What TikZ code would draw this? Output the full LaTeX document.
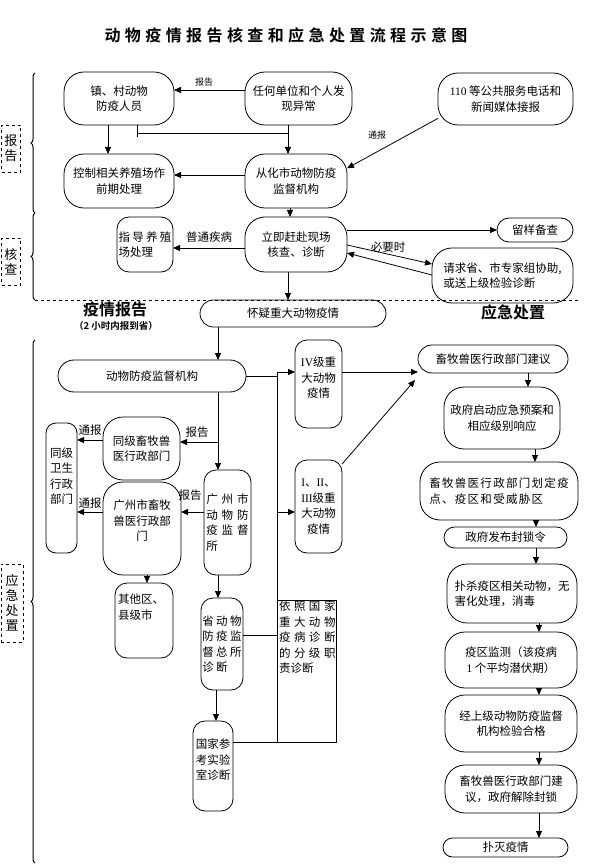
\documentclass[tikz,border=0pt]{standalone}
\usepackage{fontspec}
\setmainfont{Noto Sans CJK SC}[BoldFont={Noto Sans CJK SC Bold}]
\newfontfamily\lat{Liberation Serif}
\usetikzlibrary{arrows.meta,decorations.pathreplacing,calc}
\newcommand\boxfont{\fontsize{11.5}{15.5}\selectfont}
\newdimen\myspcdim
\makeatletter
\def\myspc#1#2{\myspcdim=#1\relax\myspc@a#2\myspc@end}
\def\myspc@a#1{#1\futurelet\myspc@nxt\myspc@b}
\def\myspc@b{\ifx\myspc@nxt\myspc@end\expandafter\@gobble\else\kern\myspcdim\expandafter\myspc@a\fi}
\def\myspc@end{}
\makeatother
\begin{document}
\begin{tikzpicture}[x=1pt,y=-1pt,
  every node/.style={inner sep=0pt, outer sep=0pt},
  box/.style={draw, line width=0.8pt, rounded corners=#1, align=center, font=\boxfont},
  box/.default=18pt,
  txt/.style={align=center, font=\boxfont},
  arr/.style={line width=0.8pt, -{Triangle[length=7pt,width=6pt]}},
  ln/.style={line width=0.8pt},
  lab/.style={font=\boxfont},
  slab/.style={font=\fontsize{9}{10}\selectfont},
  dbox/.style={draw, dashed, line width=0.8pt, align=center, font=\fontsize{13}{15}\selectfont},
  brc/.style={decorate, decoration={brace, amplitude=4pt}, line width=1pt},
  hdr/.style={font=\fontsize{16}{18}\selectfont\bfseries},
]
\useasboundingbox (0,0) rectangle (602,866);

% title
\node[font=\fontsize{16}{18}\selectfont\bfseries] (title) at (286,35) {\myspc{4.4pt}{动物疫情报告核查和应急处置流程示意图}};

% side labels and braces
\node[dbox, minimum width=19pt, minimum height=47pt] (sb1) at (11,148.5) {报\\告};
\node[dbox, minimum width=19pt, minimum height=47pt] (sb2) at (11,261.5) {核\\查};
\node[dbox, minimum width=22pt, minimum height=78pt] (sb3) at (12,603) {应\\急\\处\\置};
\draw[brc] (35,213) -- (35,73);
\draw[brc] (35,300) -- (35,213);
\draw[brc] (35,863) -- (35,340);
\draw[ln, dashed] (35,300) -- (580,300);

% top part
\node[box=20pt, minimum width=110pt, minimum height=53pt] (A) at (119,98.5) {镇、村动物\\防疫人员};
\node[box=20pt, minimum width=107pt, minimum height=53pt] (B) at (298.5,98.5) {任何单位和个人发\\现异常};
\node[box=20pt, minimum width=135pt, minimum height=52pt] (C) at (505.5,99) {{\lat 110} 等公共服务电话和\\新闻媒体接报};
\node[box=20pt, minimum width=110pt, minimum height=54pt] (D) at (119,181) {控制相关养殖场作\\前期处理};
\node[box=20pt, minimum width=102pt, minimum height=54pt] (E) at (296,181) {从化市动物防疫\\监督机构};
\node[box=20pt, minimum width=102pt, minimum height=55pt] (F) at (296,244.5) {立即赶赴现场\\核查、诊断};
\node[box=12pt, minimum width=56pt, minimum height=55pt, align=left] (G) at (145,244.5) {\myspc{2.3pt}{指导养殖}\\场处理};
\node[box=12pt, minimum width=76pt, minimum height=24pt] (I) at (535,230) {留样备查};
\node[box=20pt, minimum width=141pt, minimum height=55pt, align=left] (J) at (502.5,275.5) {请求省、市专家组协助,\\或送上级检验诊断};
\node[box=13.5pt, minimum width=186pt, minimum height=27pt] (H) at (293,313.5) {怀疑重大动物疫情};

\node[hdr] (h1) at (115,309) {疫情报告};
\node[font=\fontsize{9.5}{11}\selectfont\bfseries] (h2) at (116,326) {（2 小时内报到省）};
\node[hdr] (h3) at (513,312) {应急处置};

% top connectors
\coordinate (t1) at (137,137);
\coordinate (t2) at (288,133);
\draw[arr] (B.west |- 0,90) -- (A.east |- 0,90);
\node[slab] (l1) at (204,82) {报告};
\draw[arr] (A.south -| 108,0) -- (D.north -| 108,0);
\draw[ln] (A.south -| t1) -- (t1);
\draw[ln] (t1 |- t2) -- (t2);
\draw[arr] (B.south -| t2) -- (E.north -| t2);
\draw[arr] (C.196) -- (E.14);
\node[slab] (l2) at (377,135) {通报};
\draw[arr] (E.west |- 0,175) -- (D.east |- 0,175);
\draw[arr] (E.south -| 290,0) -- (F.north -| 290,0);
\draw[arr] (F.west |- 0,248) -- (G.east |- 0,248);
\node[lab] (l3) at (209,237) {普通疾病};
\draw[arr] (F.east |- 0,230) -- (I.west |- 0,230);
\draw[arr] (F.east |- 0,245) -- (J.west |- 0,264);
\node[lab] (l4) at (388,247) {必要时};
\draw[arr] (J.west |- 0,275) -- (F.east |- 0,253);
\draw[arr] (F.south -| 288,0) -- (H.north -| 288,0);

% middle-left part
\node[box=16pt, minimum width=188pt, minimum height=32pt] (K) at (152,376) {动物防疫监督机构};
\node[box=12pt, minimum width=47pt, minimum height=88pt] (L) at (318.5,384) {};
\node[txt] (Lt) at (318.5,378) {{\lat IV}级重\\大动物\\疫情};
\node[box=12pt, minimum width=47pt, minimum height=93pt] (M) at (318.5,506.5) {{\lat I}、{\lat II}、\\{\lat III}级重\\大动物\\疫情};
\node[box=10pt, minimum width=31pt, minimum height=130pt] (S) at (61.5,488) {};
\node[txt] (St) at (61.5,476) {同级\\卫生\\行政\\部门};
\node[box=20pt, minimum width=77pt, minimum height=63pt] (Q) at (141.5,448.5) {同级畜牧兽\\医行政部门};
\node[box=20pt, minimum width=78pt, minimum height=93pt] (R) at (142,528.5) {};
\node[txt] (Rt) at (142,521) {广州市畜牧\\兽医行政部\\门};
\node[box=12pt, minimum width=47pt, minimum height=105pt, align=left] (P) at (227.5,522.5) {\myspc{4pt}{广州市}\\\myspc{4pt}{动物防}\\\myspc{4pt}{疫监督}\\所};
\node[box=12pt, minimum width=58pt, minimum height=75pt] (T) at (144,620.5) {};
\node[align=left, font=\boxfont, anchor=north west] (Tt) at (118,594) {其他区、\\县级市};
\node[box=12pt, minimum width=42pt, minimum height=92pt, align=left] (O) at (222,644) {\myspc{2.5pt}{省动物}\\\myspc{2.5pt}{防疫监}\\\myspc{2.5pt}{督总所}\\\myspc{2.5pt}{诊断}};
\node[box=12pt, minimum width=40pt, minimum height=90pt] (X) at (213,766) {};
\node[txt] (Xt) at (213,760) {国家参\\考实验\\室诊断};
\node[draw, ln, minimum width=59pt, minimum height=142pt] (N) at (306.5,671) {};
\node[align=left, font=\boxfont, anchor=north west] (Nt) at (279,601) {\myspc{3.5pt}{依照国家}\\\myspc{3.5pt}{重大动物}\\\myspc{3.5pt}{疫病诊断}\\\myspc{3.5pt}{的分级职}\\责诊断};

% right column
\node[box=14pt, minimum width=150pt, minimum height=28pt] (U) at (493,359) {畜牧兽医行政部门建议};
\node[box=20pt, minimum width=116pt, minimum height=62pt] (V) at (502,418) {政府启动应急预案和\\相应级别响应};
\node[box=20pt, minimum width=158pt, minimum height=58pt, align=left] (W) at (499,491) {\myspc{1.3pt}{畜牧兽医行政部门划定疫}\\\myspc{1.3pt}{点、疫区和受威胁区}};
\node[box=10.5pt, minimum width=123pt, minimum height=21pt] (Y) at (505.5,537.5) {政府发布封锁令};
\node[box=20pt, minimum width=130pt, minimum height=59pt, align=left] (Z) at (512,593.5) {扑杀疫区相关动物，无\\害化处理，消毒};
\node[box=20pt, minimum width=132pt, minimum height=56pt] (AA) at (511,660) {疫区监测（该疫病\\{\lat 1} 个平均潜伏期）};
\node[box=20pt, minimum width=132pt, minimum height=57pt] (AB) at (511,723.5) {经上级动物防疫监督\\机构检验合格};
\node[box=20pt, minimum width=132pt, minimum height=48pt] (AC) at (511,789) {畜牧兽医行政部门建\\议，政府解除封锁};
\node[box=9.5pt, minimum width=125pt, minimum height=19pt] (AD) at (505.5,847.5) {扑灭疫情};

% middle connectors
\coordinate (vtop) at (277,372);
\coordinate (vbot) at (277,742);
\coordinate (uin) at (415,380);
\coordinate (kp) at (218,442);
\draw[arr] (H.south -| 218,0) -- (K.north -| 218,0);
\draw[ln] (K.east) -- (K.east -| vtop);
\draw[ln] (vtop) -- (vbot);
\draw[arr] (vtop) -- (L.west |- vtop);
\draw[arr] (vtop |- 0,512) -- (M.west |- 0,512);
\draw[arr] (L.east |- 0,372) -- (U.west |- 0,372);
\draw[arr] (M.61) -- (uin);
\draw[arr] (U.south -| 528,0) -- (V.north -| 528,0);
\draw[arr] (V.south -| 535,0) -- (W.north -| 535,0);
\draw[arr] (W.south -| 536,0) -- (Y.north -| 536,0);
\draw[arr] (Y.south -| 536,0) -- (Z.north -| 536,0);
\draw[arr] (Z.south -| 539,0) -- (AA.north -| 539,0);
\draw[arr] (AA.south -| 539,0) -- (AB.north -| 539,0);
\draw[arr] (AB.south -| 539,0) -- (AC.north -| 539,0);
\draw[arr] (AC.south -| 539,0) -- (AD.north -| 539,0);

\draw[arr] (K.south -| kp) -- (P.north -| kp);
\draw[arr] (kp) -- (Q.east |- kp);
\node[lab] (l5) at (197,432) {报告};
\draw[arr] (P.west |- 0,512) -- (R.east |- 0,512);
\node[lab] (l6) at (190,495) {报告};
\draw[arr] (Q.west |- 0,440) -- (S.east |- 0,440);
\node[lab] (l7) at (90,430) {通报};
\draw[arr] (R.west |- 0,512) -- (S.east |- 0,512);
\node[lab] (l8) at (90,503) {通报};
\draw[arr] (R.south -| 147,0) -- (T.north -| 147,0);
\draw[arr] (P.south -| 218,0) -- (O.north -| 218,0);
\draw[arr] (O.south -| 216,0) -- (X.north -| 216,0);
\draw[ln] (O.east |- 0,635) -- (N.west |- 0,635);
\draw[ln] (X.east |- vbot) -- (vbot);
\end{tikzpicture}
\end{document}
